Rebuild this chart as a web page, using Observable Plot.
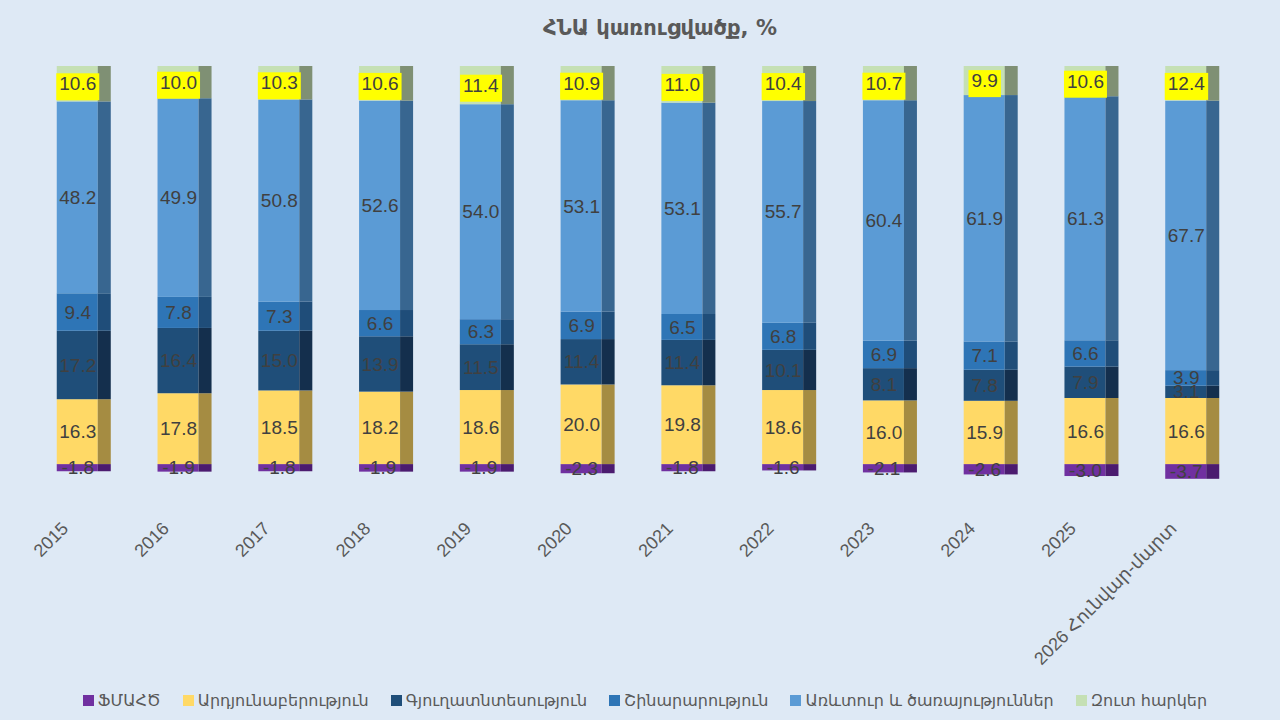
<!DOCTYPE html>
<html>
<head>
<meta charset="utf-8">
<script src="https://cdn.jsdelivr.net/npm/d3@7"></script>
<script src="https://cdn.jsdelivr.net/npm/@observablehq/plot@0.6"></script>
<style>
  html, body { margin: 0; padding: 0; }
  body { width: 1280px; height: 720px; overflow: hidden; background: #dee9f5; font-family: "Liberation Sans", "DejaVu Sans", sans-serif; }
  #title { height: 50px; line-height: 56px; text-align: center; font-family: "DejaVu Sans", sans-serif; font-weight: bold; font-size: 21px; color: #595959; padding-left: 40px; box-sizing: border-box; }
  #chart { height: 630px; }
  #legend { height: 40px; display: flex; justify-content: center; align-items: center; gap: 22px; font-family: "DejaVu Sans", sans-serif; font-size: 16px; color: #595959; padding-left: 10px; box-sizing: border-box; }
  .item { display: flex; align-items: center; gap: 4px; }
  .sw { width: 11px; height: 11px; display: inline-block; }
</style>
</head>
<body>
<div id="title">ՀՆԱ կառուցվածք, %</div>
<div id="chart"></div>
<div id="legend"></div>
<script>
const categories = ["2015", "2016", "2017", "2018", "2019", "2020", "2021", "2022", "2023", "2024", "2025", "2026 Հունվար-մարտ"];
const seriesNames = ["ՖՄԱՀԾ", "Արդյունաբերություն", "Գյուղատնտեսություն", "Շինարարություն", "Առևտուր և ծառայություններ", "Զուտ հարկեր"];
const fisim        = [-1.8, -1.9, -1.8, -1.9, -1.9, -2.3, -1.8, -1.6, -2.1, -2.6, -3.0, -3.7];
const industry     = [16.3, 17.8, 18.5, 18.2, 18.6, 20.0, 19.8, 18.6, 16.0, 15.9, 16.6, 16.6];
const agriculture  = [17.2, 16.4, 15.0, 13.9, 11.5, 11.4, 11.4, 10.1, 8.1, 7.8, 7.9, 3.1];
const construction = [9.4, 7.8, 7.3, 6.6, 6.3, 6.9, 6.5, 6.8, 6.9, 7.1, 6.6, 3.9];
const trade        = [48.2, 49.9, 50.8, 52.6, 54.0, 53.1, 53.1, 55.7, 60.4, 61.9, 61.3, 67.7];
const netTaxes     = [10.6, 10.0, 10.3, 10.6, 11.4, 10.9, 11.0, 10.4, 10.7, 9.9, 10.6, 12.4];
const seriesValues = [fisim, industry, agriculture, construction, trade, netTaxes];
const frontColors = ["#7030a0", "#ffd966", "#1f4e79", "#2e75b6", "#5b9bd5", "#c5e0b4"];
const sideColors  = ["#4b1b6f", "#a58c42", "#142f4d", "#1f4d79", "#386690", "#7f9074"];
const yMin = -4, yMax = 100;

// stack (positives up from 0, negatives down from 0)
const rows = [];
categories.forEach((cat, i) => {
  let pos = 0, neg = 0;
  seriesNames.forEach((s, j) => {
    const v = seriesValues[j][i];
    let y1, y2;
    if (v >= 0) { y1 = pos; y2 = pos + v; pos = y2; }
    else { y2 = neg; y1 = neg + v; neg = y1; }
    rows.push({cat, series: s, j, value: v, y1, y2,
      ymid: (y1 + Math.min(y2, yMax)) / 2, label: v.toFixed(1),
      front: frontColors[j], side: sideColors[j]});
  });
});
const lastIdx = seriesNames.length - 1;
const innerRows = rows.filter(d => d.j !== lastIdx);
const taxRows = rows.filter(d => d.j === lastIdx);

const sideW = 13;
const numFont = "Liberation Sans, DejaVu Sans, sans-serif";

const plot = Plot.plot({
  width: 1280,
  height: 630,
  marginTop: 16,
  marginBottom: 200,
  marginLeft: 10,
  marginRight: 14,
  style: {background: "transparent", color: "#595959", fontFamily: numFont},
  color: {type: "identity"},
  x: {domain: categories, padding: 0.464, round: false, label: null},
  y: {domain: [yMin, yMax], axis: null},
  marks: [
    Plot.barY(rows, {x: "cat", y1: "y1", y2: "y2", fill: "front", insetRight: sideW, clip: true}),
    Plot.barY(rows, {x: "cat", y1: "y1", y2: "y2", fill: "side", insetLeft: 41, clip: true}),
    Plot.axisX({tickRotate: -45, tickSize: 0, tickPadding: 45, dx: -19, fontSize: 18, label: null}),
    Plot.text(innerRows, {x: "cat", y: "ymid", text: "label", dx: -6.5, fill: "#404040", fontSize: 19, fontFamily: numFont}),
    Plot.text(taxRows, {x: "cat", y: "ymid", text: "label", dx: -6.5, fill: "#404040", fontSize: 19, fontFamily: numFont})
  ]
});
document.getElementById("chart").appendChild(plot);

// yellow boxes behind net-tax labels
const textGroups = plot.querySelectorAll('g[aria-label="text"]');
const taxGroup = textGroups[textGroups.length - 1];
if (taxGroup) {
  taxGroup.querySelectorAll("text").forEach(t => {
    const b = t.getBBox();
    const r = document.createElementNS("http://www.w3.org/2000/svg", "rect");
    r.setAttribute("x", b.x - 3);
    r.setAttribute("y", b.y);
    r.setAttribute("width", b.width + 6);
    r.setAttribute("height", b.height + 6);
    r.setAttribute("fill", "#ffff00");
    const tr = t.getAttribute("transform");
    if (tr) r.setAttribute("transform", tr);
    taxGroup.insertBefore(r, t);
  });
}

// legend
const legend = document.getElementById("legend");
seriesNames.forEach((s, j) => {
  const item = document.createElement("span");
  item.className = "item";
  const sw = document.createElement("span");
  sw.className = "sw";
  sw.style.background = frontColors[j];
  const lb = document.createElement("span");
  lb.textContent = s;
  item.appendChild(sw);
  item.appendChild(lb);
  legend.appendChild(item);
});
</script>
</body>
</html>
